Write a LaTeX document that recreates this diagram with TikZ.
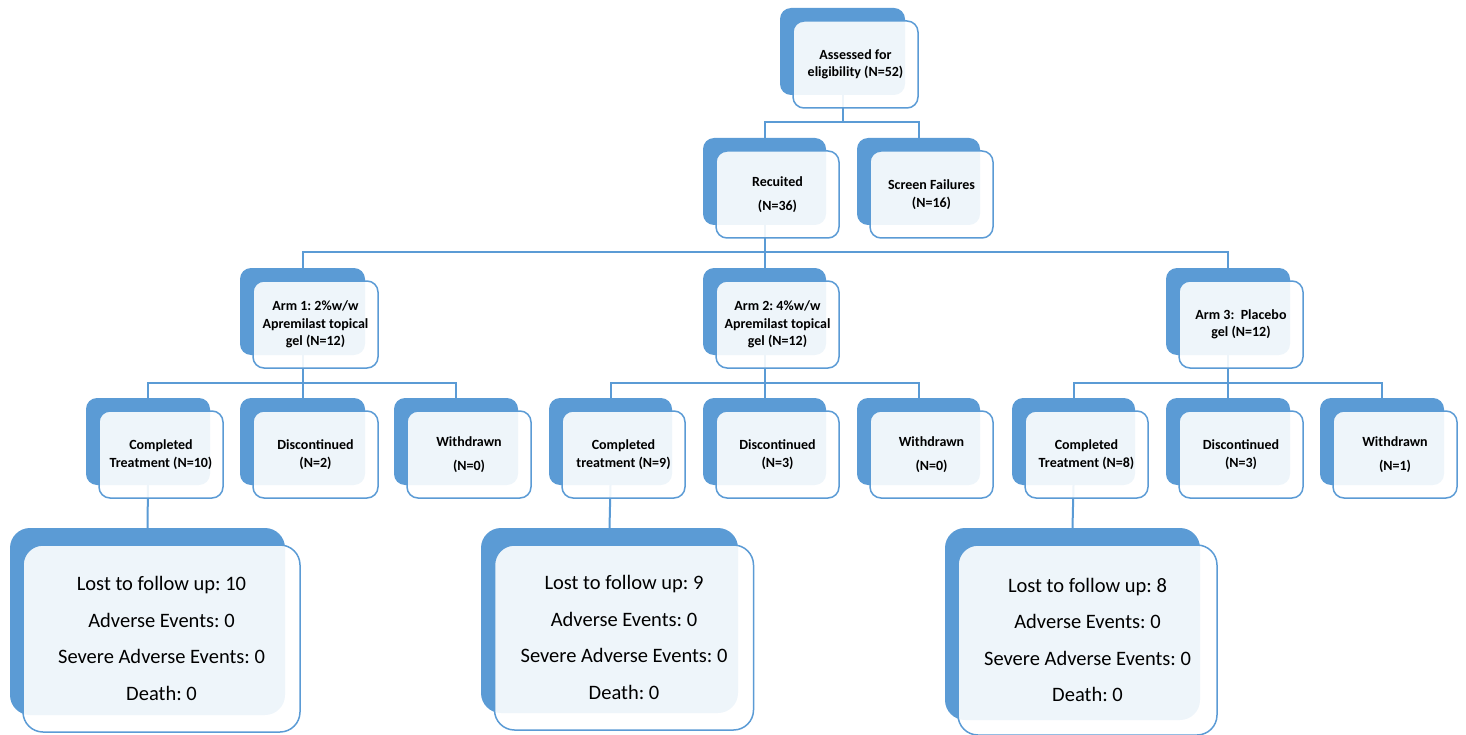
\documentclass[tikz,border=0pt]{standalone}
\usepackage{fontspec}
\setmainfont{Carlito}
\frenchspacing
\usetikzlibrary{backgrounds}
\definecolor{accent}{HTML}{5B9BD5}
\tikzset{
  backbox/.style={fill=accent, draw=none, rounded corners=#1, inner sep=0pt},
  backbox/.default=11pt,
  frontbox/.style={draw=accent, line width=1.5pt, fill=white, fill opacity=0.9, text opacity=1, draw opacity=1,
     rounded corners=11pt, inner sep=0pt, align=center, text=black},
  small/.style={font=\fontsize{14}{17.5}\selectfont\bfseries},
  big/.style={font=\fontsize{20.5}{36.5}\selectfont, rounded corners=20pt},
  conn/.style={draw=accent, line width=2pt}
}
% name, cx, cy, w, h, dx/dy, style, text
\newcommand\dbox[8]{%
  \node[backbox, minimum width=#4pt, minimum height=#5pt] (#1b) at (#2,#3) {};
  \node[frontbox, #7, minimum width=#4pt, minimum height=#5pt] (#1) at ([shift={(#6)}]#1b.center) {#8};}
\begin{document}
\begin{tikzpicture}[x=1pt,y=-1pt]
\useasboundingbox (0,0) rectangle (1466,735);
\dbox{ass}{842.5}{51.5}{125}{87}{13,13}{small}{Assessed for\\eligibility (N=52)}
\dbox{rec}{764.5}{181.5}{123}{87}{13,13}{small}{Recuited\\[7pt](N=36)}
\dbox{scr}{918.5}{181.5}{123}{87}{13,13}{small}{Screen Failures\\(N=16)}
\dbox{armA}{302.5}{311.5}{125}{87}{13,13}{small}{Arm 1: 2\%w/w\\Apremilast topical\\gel (N=12)}
\dbox{armB}{764.5}{311.5}{123}{87}{13,13}{small}{Arm 2: 4\%w/w\\Apremilast topical\\gel (N=12)}
\dbox{armC}{1228}{311.5}{124}{87}{13,13}{small}{Arm 3:\ \ Placebo\\gel (N=12)}
\dbox{cA}{148}{441.5}{124}{87}{13,13}{small}{Completed\\Treatment (N=10)}
\dbox{dA}{302.5}{441.5}{125}{87}{13,13}{small}{Discontinued\\(N=2)}
\dbox{wA}{456}{441.5}{124}{87}{13,13}{small}{Withdrawn\\[6pt](N=0)}
\dbox{cB}{610.5}{441.5}{123}{87}{13,13}{small}{Completed\\treatment (N=9)}
\dbox{dB}{764.5}{441.5}{123}{87}{13,13}{small}{Discontinued\\(N=3)}
\dbox{wB}{918.5}{441.5}{123}{87}{13,13}{small}{Withdrawn\\[6pt](N=0)}
\dbox{cC}{1073.5}{441.5}{123}{87}{13,13}{small}{Completed\\Treatment (N=8)}
\dbox{dC}{1228}{441.5}{124}{87}{13,13}{small}{Discontinued\\(N=3)}
\dbox{wC}{1382}{441.5}{124}{87}{13,13}{small}{Withdrawn\\[6pt](N=1)}
\node[backbox=20pt, minimum width=275pt, minimum height=187pt] (fAb) at (147.5,621.5) {};
\node[frontbox, big, minimum width=277pt, minimum height=187pt] (fA) at (161.5,638.5) {Lost to follow up: 10\\Adverse Events: 0\\Severe Adverse Events: 0\\Death: 0};
\node[backbox=20pt, minimum width=257pt, minimum height=185pt] (fBb) at (609.5,620.5) {};
\node[frontbox, big, minimum width=259pt, minimum height=185pt] (fB) at (624,637.5) {Lost to follow up: 9\\Adverse Events: 0\\Severe Adverse Events: 0\\Death: 0};
\node[backbox=20pt, minimum width=255pt, minimum height=192pt] (fCb) at (1072.5,624) {};
\node[frontbox, big, minimum width=259pt, minimum height=190pt] (fC) at (1087.5,640) {Lost to follow up: 8\\Adverse Events: 0\\Severe Adverse Events: 0\\Death: 0};
\begin{pgfonlayer}{background}
\draw[conn] (assb.south) -- ++(0,27) coordinate (j0);
\draw[conn] (recb.north) -- ++(0,-16) -| (scrb.north);
\draw[conn] (recb.south) -- ++(0,27);
\draw[conn] (armAb.north) -- ++(0,-16) -| (armCb.north);
\draw[conn] (armBb.north) -- ++(0,-16);
\foreach \a/\c/\d/\w in {armAb/cAb/dAb/wAb, armBb/cBb/dBb/wBb, armCb/cCb/dCb/wCb}{
  \draw[conn] (\a.south) -- (\d.north);
  \draw[conn] (\c.north) -- ++(0,-15) -| (\w.north);
}
\draw[conn] (cAb.south) -- (fAb.north);
\draw[conn] (cBb.south) -- (fBb.north);
\draw[conn] (cCb.south) -- (fCb.north);
\end{pgfonlayer}
\end{tikzpicture}
\end{document}
